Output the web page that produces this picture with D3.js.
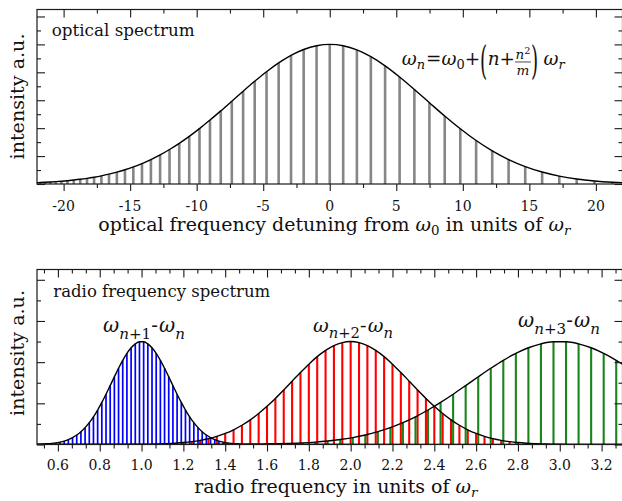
<!DOCTYPE html>
<html><head><meta charset="utf-8">
<script src="https://cdn.jsdelivr.net/npm/d3@7"></script>
<style>
body{margin:0;background:#fff}
svg{display:block}
text{font-family:"DejaVu Serif",serif;fill:#111;white-space:pre}
</style>
</head><body>
<svg id="c" width="622" height="501"></svg>
<script>
// ---------------- data ----------------
const opticalPos = [-21.76,-21.39,-21,-20.59,-20.16,-19.71,-19.24,-18.75,-18.24,-17.71,-17.16,-16.59,-16,-15.39,-14.76,-14.11,-13.44,-12.75,-12.04,-11.31,-10.56,-9.79,-9,-8.19,-7.36,-6.51,-5.64,-4.75,-3.84,-2.91,-1.96,-0.99,0,1.01,2.04,3.09,4.16,5.25,6.36,7.49,8.64,9.81,11,12.21,13.44,14.69,15.96,17.25,18.56,19.89,21.24];
const opticalInt = [.0104,.0121,.0142,.0168,.0199,.0236,.0282,.0337,.0404,.0486,.0584,.0703,.0847,.1019,.1223,.1466,.1752,.2085,.2471,.2913,.3412,.3969,.4579,.5237,.5931,.6646,.7358,.8045,.8674,.9216,.9636,.9906,1,.9902,.9607,.9120,.8463,.7666,.6770,.5822,.4868,.3953,.3114,.2375,.1752,.1248,.0858,.0567,.0361,.0220,.0129];
const opticalEdgePos = [-22, 22];
const opticalEdgeInt = [.0094, .0094];

const blueFreq = [0.51,0.53,0.55,0.57,0.59,0.61,0.63,0.65,0.67,0.69,0.71,0.73,0.75,0.77,0.79,0.81,0.83,0.85,0.87,0.89,0.91,0.93,0.95,0.97,0.99,1.01,1.03,1.05,1.07,1.09,1.11,1.13,1.15,1.17,1.19,1.21,1.23,1.25,1.27,1.29,1.31,1.33,1.35,1.37,1.39,1.41,1.43,1.45,1.47,1.49];
const blueInt = [.0026,.0042,.0066,.0102,.0155,.0230,.0335,.0479,.0671,.0922,.1242,.1640,.2122,.2693,.3349,.4085,.4883,.5724,.6576,.7408,.8180,.8856,.9399,.9779,.9975,.9975,.9779,.9399,.8856,.8180,.7408,.6576,.5724,.4883,.4085,.3349,.2693,.2122,.1640,.1242,.0922,.0671,.0479,.0335,.0230,.0155,.0102,.0066,.0042,.0026];
const blueEdgeFreq = [0.5, 3.3];
const blueEdgeInt = [.0020, 0];

const redFreq = [1.04,1.08,1.12,1.16,1.20,1.24,1.28,1.32,1.36,1.40,1.44,1.48,1.52,1.56,1.60,1.64,1.68,1.72,1.76,1.80,1.84,1.88,1.92,1.96,2.00,2.04,2.08,2.12,2.16,2.20,2.24,2.28,2.32,2.36,2.40,2.44,2.48,2.52,2.56,2.60,2.64,2.68,2.72,2.76,2.80,2.84,2.88,2.92,2.96,3.00,3.04,3.08,3.12,3.16,3.20,3.24,3.28];
const redInt = [.0033,.0053,.0082,.0126,.0189,.0278,.0402,.0569,.0789,.1073,.1431,.1871,.2397,.3011,.3709,.4478,.5301,.6151,.6997,.7804,.8533,.9146,.9611,.9901,1,.9901,.9611,.9146,.8533,.7804,.6997,.6151,.5301,.4478,.3709,.3011,.2397,.1871,.1431,.1073,.0789,.0569,.0402,.0278,.0189,.0126,.0082,.0053,.0033,.0020,.0012,.0007,.0004,.0002,.0001,.0001,0];
const redEdgeFreq = [0.5, 3.3];
const redEdgeInt = [0, 0];

const greenFreq = [1.53,1.59,1.65,1.71,1.77,1.83,1.89,1.95,2.01,2.07,2.13,2.19,2.25,2.31,2.37,2.43,2.49,2.55,2.61,2.67,2.73,2.79,2.85,2.91,2.97,3.03,3.09,3.15,3.21,3.27];
const greenInt = [.0026,.0042,.0066,.0102,.0155,.0230,.0336,.0480,.0672,.0923,.1244,.1641,.2124,.2695,.3351,.4087,.4885,.5725,.6577,.7408,.8181,.8856,.9399,.9779,.9975,.9975,.9779,.9399,.8856,.8181];
const greenEdgeFreq = [0.5, 3.3];
const greenEdgeInt = [0, .7804];

const opticalTicks = [-20,-15,-10,-5,0,5,10,15,20];
const opticalTickLabels = ["-20","-15","-10","-5","0","5","10","15","20"];
const opticalMinorTicks = [-17.5,-12.5,-7.5,-2.5,2.5,7.5,12.5,17.5];
const rfTicks = [0.6,0.8,1.0,1.2,1.4,1.6,1.8,2.0,2.2,2.4,2.6,2.8,3.0,3.2];
const rfTickLabels = ["0.6","0.8","1.0","1.2","1.4","1.6","1.8","2.0","2.2","2.4","2.6","2.8","3.0","3.2"];

// ---------------- layout ----------------
const svg = d3.select("#c");
const L = 37, R = 622.5;
const P1 = {t: 9.5, b: 184}, P2 = {t: 269.5, b: 444.5};
const x1 = d3.scaleLinear().domain([-22, 22]).range([L, R]);
const y1 = d3.scaleLinear().domain([0, 1.25]).range([P1.b, P1.t]);
const x2 = d3.scaleLinear().domain([0.5, 3.3]).range([L, R]);
const y2 = d3.scaleLinear().domain([0, 1.7]).range([P2.b, P2.t]);
const INK = "#1a1a1a";

const defs = svg.append("defs");
defs.append("clipPath").attr("id","cp1").append("rect").attr("x",L).attr("y",P1.t).attr("width",R-L).attr("height",P1.b-P1.t);
defs.append("clipPath").attr("id","cp2").append("rect").attr("x",L).attr("y",P2.t).attr("width",R-L).attr("height",P2.b-P2.t);

function bars(g, xs, ys, xS, yS, color, w){
  g.append("g").selectAll("line").data(d3.zip(xs, ys)).join("line")
    .attr("x1", d => xS(d[0])).attr("x2", d => xS(d[0]))
    .attr("y1", yS(0)).attr("y2", d => yS(d[1]))
    .attr("stroke", color).attr("stroke-width", w);
}
function envelope(g, xs, ys, ex, ey, xS, yS){
  const pts = [[ex[0], ey[0]], ...d3.zip(xs, ys), [ex[1], ey[1]]];
  g.append("path").attr("d", d3.line().x(d => xS(d[0])).y(d => yS(d[1])).curve(d3.curveMonotoneX)(pts))
    .attr("fill","none").attr("stroke","#000").attr("stroke-width",1.4).attr("stroke-linejoin","round");
}

// panel 1
const g1 = svg.append("g").attr("clip-path","url(#cp1)");
bars(g1, opticalPos, opticalInt, x1, y1, "#868686", 2.6);
envelope(g1, opticalPos, opticalInt, opticalEdgePos, opticalEdgeInt, x1, y1);

// panel 2
const g2 = svg.append("g").attr("clip-path","url(#cp2)");
bars(g2, blueFreq, blueInt, x2, y2, "#0000ff", 1.7);
bars(g2, redFreq, redInt, x2, y2, "#ff0000", 2.1);
bars(g2, greenFreq, greenInt, x2, y2, "#1a851a", 2.1);
envelope(g2, blueFreq, blueInt, blueEdgeFreq, blueEdgeInt, x2, y2);
envelope(g2, redFreq, redInt, redEdgeFreq, redEdgeInt, x2, y2);
envelope(g2, greenFreq, greenInt, greenEdgeFreq, greenEdgeInt, x2, y2);

// axes / frame
function styleAxis(a){ a.select(".domain").remove(); a.selectAll("line").attr("stroke", INK).attr("stroke-width",1.1); a.selectAll("text").remove(); }
function frame(P, xS, yS, xMaj, xMin, yMaj, yMin, bMaj, bMin){
  const fr = svg.append("g");
  fr.append("rect").attr("x",L).attr("y",P.t).attr("width",R-L).attr("height",P.b-P.t)
    .attr("fill","none").attr("stroke",INK).attr("stroke-width",1.2);
  const add = (axis, tx, ty) => fr.append("g").attr("transform",`translate(${tx},${ty})`).call(axis).call(styleAxis);
  add(d3.axisBottom(xS).tickValues(xMaj).tickSize(bMaj).tickFormat(""), 0, P.b);
  add(d3.axisBottom(xS).tickValues(xMin).tickSize(bMin).tickFormat(""), 0, P.b);
  add(d3.axisTop(xS).tickValues(xMaj).tickSize(-8).tickFormat(""), 0, P.t);
  add(d3.axisTop(xS).tickValues(xMin).tickSize(-4).tickFormat(""), 0, P.t);
  add(d3.axisLeft(yS).tickValues(yMaj).tickSize(-8).tickFormat(""), L, 0);
  add(d3.axisLeft(yS).tickValues(yMin).tickSize(-4).tickFormat(""), L, 0);
  add(d3.axisRight(yS).tickValues(yMaj).tickSize(-8).tickFormat(""), R, 0);
  add(d3.axisRight(yS).tickValues(yMin).tickSize(-4).tickFormat(""), R, 0);
}
const y1Maj = [0,0.2,0.4,0.6,0.8,1.0,1.2], y1Min = [0.1,0.3,0.5,0.7,0.9,1.1];
frame(P1, x1, y1, opticalTicks, opticalMinorTicks, y1Maj, y1Min, 7, 4);
const rfMinor = d3.range(8, 50).filter(k => k % 3 !== 0).map(k => k / 15);
const y2Maj = [0,0.4,0.8,1.2,1.6], y2Min = [0.2,0.6,1.0,1.4];
frame(P2, x2, y2, rfTicks, rfMinor, y2Maj, y2Min, 7, 4);

// tick labels
svg.append("g").selectAll("text").data(opticalTicks).join("text")
  .attr("x", d => x1(d)).attr("y", 210.5).attr("text-anchor","middle").attr("font-size",14)
  .text((d,i) => opticalTickLabels[i]);
svg.append("g").selectAll("text").data(rfTicks).join("text")
  .attr("x", d => x2(d)).attr("y", 469.5).attr("text-anchor","middle").attr("font-size",14)
  .text((d,i) => rfTickLabels[i]);

// text helpers
function fit(sel, target){
  const w = sel.node().getComputedTextLength();
  sel.attr("font-size", parseFloat(sel.attr("font-size")) * target / w);
  return sel;
}
function row(parent, pieces){
  const g = parent.append("g");
  let cx = 0; const widths = [];
  pieces.forEach((p, i) => {
    if (p.space){ cx += p.space; widths[i] = p.space; return; }
    if (p.frac){
      const fg = g.append("g");
      const num = row(fg, p.num), den = row(fg, p.den);
      const fw = Math.max(num.w, den.w) + 1;
      num.g.attr("transform", `translate(${cx + (fw - num.w)/2},${p.numY})`);
      den.g.attr("transform", `translate(${cx + (fw - den.w)/2},${p.denY})`);
      fg.append("line").attr("x1",cx).attr("x2",cx+fw).attr("y1",p.barY).attr("y2",p.barY)
        .attr("stroke","#111").attr("stroke-width",0.7);
      widths[i] = fw; cx += fw + (p.kern||0); return;
    }
    const t = g.append("text").attr("font-size", p.size||17).text(p.t);
    if (p.it) t.attr("font-style","italic");
    if (p.sy) t.attr("transform", `translate(${cx},${p.dy||0}) scale(1,${p.sy})`);
    else t.attr("x", cx).attr("y", p.dy||0);
    const w = t.node().getComputedTextLength();
    widths[i] = w; cx += w + (p.kern||0);
  });
  return {g, w: cx, widths};
}
function math(x, y, pieces, opts){
  const outer = svg.append("g");
  const r = row(outer, pieces);
  let s = 1;
  if (opts.width) s = opts.width / r.w;
  if (opts.scale) s = opts.scale;
  outer.attr("transform", `translate(${x},${y}) scale(${s})`);
  return s;
}

// panel titles
fit(svg.append("text").attr("x",51.7).attr("y",36).attr("font-size",17).text("optical spectrum"), 143);
fit(svg.append("text").attr("x",53.3).attr("y",296.7).attr("font-size",17).text("radio frequency spectrum"), 217);

// y labels
fit(svg.append("text").attr("transform","translate(23.5,96.5) rotate(-90)").attr("text-anchor","middle").attr("font-size",17).text("intensity a.u."), 126);
fit(svg.append("text").attr("transform","translate(23.5,353) rotate(-90)").attr("text-anchor","middle").attr("font-size",17).text("intensity a.u."), 126);

// x labels
const sX = math(98.3, 231, [
  {t:"optical frequency detuning from "}, {t:"ω", it:true}, {t:"0", size:12, dy:4},
  {t:" in units of "}, {t:"ω", it:true}, {t:"r", it:true, size:12, dy:4}
], {width:472});
math(194.3, 493, [
  {t:"radio frequency in units of "}, {t:"ω", it:true}, {t:"r", it:true, size:12, dy:4}
], {scale:sX});

// formula
math(401.7, 65, [
  {t:"ω", it:true}, {t:"n", it:true, size:12, dy:3.5, kern:1},
  {t:"="}, {t:"ω", it:true}, {t:"0", size:12, dy:3.5}, {t:"+"},
  {t:"(", sy:2.1, dy:8, kern:0.5}, {t:"n", it:true}, {t:"+"},
  {frac:true, numY:-5.5, denY:9, barY:-2.8,
    num:[{t:"n", it:true, size:12.5}, {t:"2", size:9, dy:-5}],
    den:[{t:"m", it:true, size:12.5}]},
  {t:")", sy:2.1, dy:8}, {space:5},
  {t:"ω", it:true}, {t:"r", it:true, size:12, dy:3.5}
], {width:163});

// curve labels
const lab = (x, y, k, w) => math(x, y, [
  {t:"ω", it:true}, {t:"n", it:true, size:13, dy:6}, {t:"+"+k, size:13, dy:6},
  {t:"-", kern:1}, {t:"ω", it:true}, {t:"n", it:true, size:13, dy:6}
], {width:w});
lab(103, 331.5, 1, 82);
lab(313, 331.5, 2, 80);
lab(518, 326.5, 3, 82);
</script>
</body></html>
